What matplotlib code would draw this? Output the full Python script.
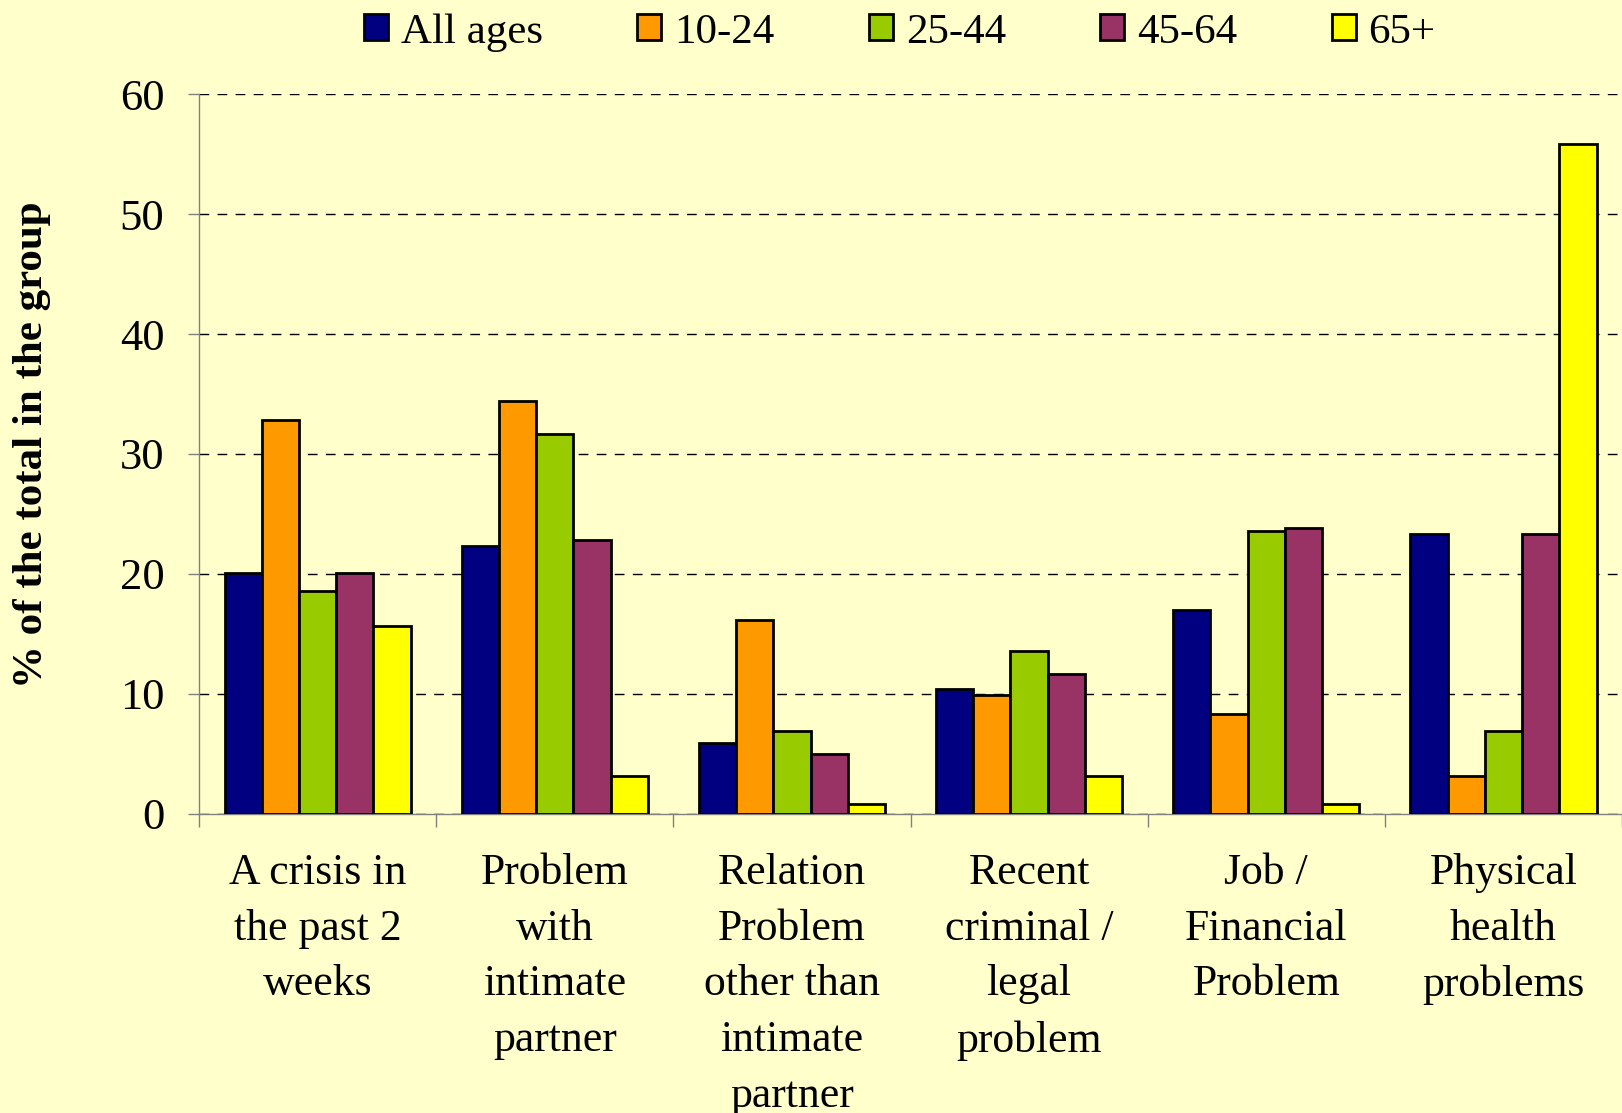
import numpy as np
import matplotlib
matplotlib.use("Agg")
import matplotlib.pyplot as plt
from matplotlib.ticker import FixedLocator, NullFormatter

categories = [
    "A crisis in\nthe past 2\nweeks",
    "Problem\nwith\nintimate\npartner",
    "Relation\nProblem\nother than\nintimate\npartner",
    "Recent\ncriminal /\nlegal\nproblem",
    "Job /\nFinancial\nProblem",
    "Physical\nhealth\nproblems",
]
series_names = ["All ages", "10-24", "25-44", "45-64", "65+"]
all_ages = [20.1, 22.3, 5.9, 10.4, 17.0, 23.3]
age_10_24 = [32.8, 34.4, 16.2, 9.9, 8.3, 3.2]
age_25_44 = [18.6, 31.7, 6.9, 13.6, 23.6, 6.9]
age_45_64 = [20.1, 22.8, 5.0, 11.7, 23.8, 23.3]
age_65_plus = [15.7, 3.2, 0.8, 3.2, 0.8, 55.8]
yticks = [0, 10, 20, 30, 40, 50, 60]

colors = ["#000080", "#FF9900", "#99CC00", "#993366", "#FFFF00"]
bg = "#FFFFCC"
serif = ["Liberation Serif", "DejaVu Serif"]

fig = plt.figure(figsize=(16.22, 11.13), dpi=100, facecolor=bg)
ax = fig.add_axes([0.1227, 0.2687, 0.8773, 0.6468], facecolor=bg)

x = np.arange(len(categories))
w = 0.157
data = [all_ages, age_10_24, age_25_44, age_45_64, age_65_plus]
for i, vals in enumerate(data):
    ax.bar(x + (i - 2) * w, vals, w, color=colors[i], edgecolor="black",
           linewidth=2, label=series_names[i], zorder=3)

ax.set_xlim(-0.5, len(categories) - 0.5)
ax.set_ylim(0, 60)
ax.set_yticks(yticks)
ax.set_yticklabels([str(t) for t in yticks], fontsize=32, family=serif)
ax.tick_params(axis="y", length=8, width=1, color="#808080", pad=17)

# boundary ticks (major, no labels) and category labels (minor, no tick)
ax.xaxis.set_major_locator(FixedLocator(np.arange(-0.5, len(categories), 1.0)))
ax.xaxis.set_major_formatter(NullFormatter())
ax.xaxis.set_minor_locator(FixedLocator(x))
ax.set_xticklabels(categories, minor=True, fontsize=31.5, family=serif, linespacing=1.51)
ax.tick_params(axis="x", which="major", length=9, width=1, color="#808080")
ax.tick_params(axis="x", which="minor", length=0, pad=28)

ax.yaxis.grid(True, color="black", linestyle=(0, (7, 6)), linewidth=1, zorder=0)
ax.set_axisbelow(True)
for s in ["top", "right"]:
    ax.spines[s].set_visible(False)
for s in ["left", "bottom"]:
    ax.spines[s].set_color("#808080")
    ax.spines[s].set_linewidth(1)

ax.set_ylabel("% of the total in the group", fontsize=31, family=serif,
              fontweight="bold", va="center")
ax.yaxis.set_label_coords(-0.1174, 0.5125)

fig.legend(loc="center left", bbox_to_anchor=(0.2245, 0.971), ncol=5,
           frameon=False, borderpad=0, borderaxespad=0,
           prop={"family": serif, "size": 31},
           handlelength=0.55, handleheight=0.55, handletextpad=0.3,
           columnspacing=2.2)

fig.savefig("out.png", dpi=100, facecolor=bg)
